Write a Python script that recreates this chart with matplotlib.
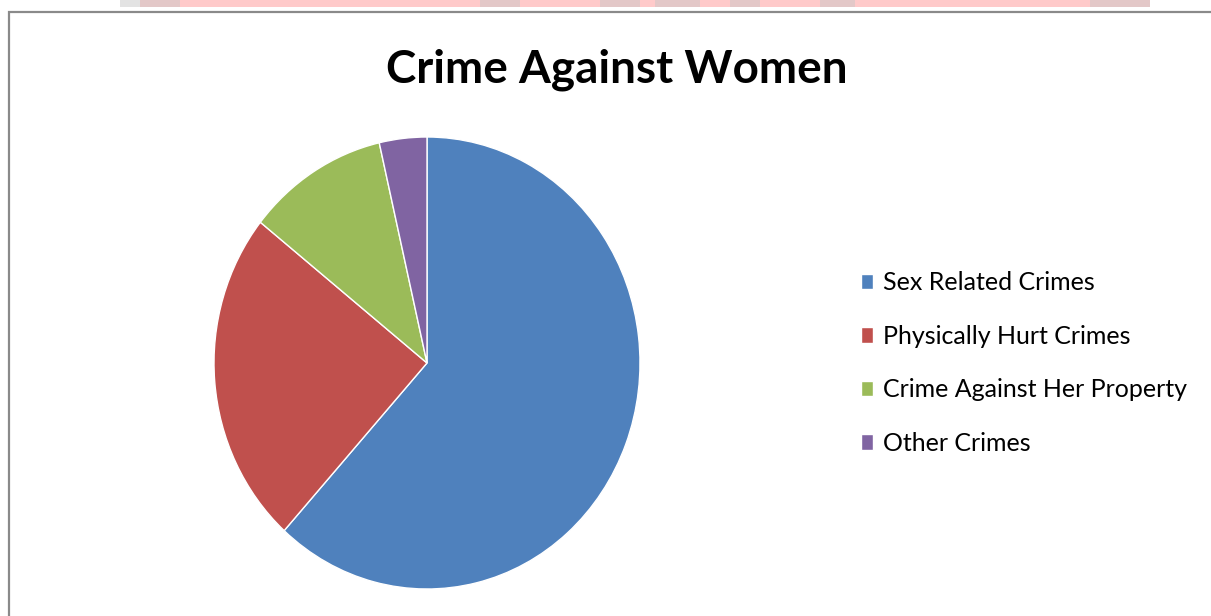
import matplotlib.pyplot as plt
from matplotlib.patches import Rectangle

categories = ["Sex Related Crimes", "Physically Hurt Crimes",
              "Crime Against Her Property", "Other Crimes"]
shares = [61.7, 24.0, 10.7, 3.6]
colors = ["#4F81BD", "#C0504D", "#9BBB59", "#8064A2"]
title = "Crime Against Women"

W, H = 1211, 616
fig = plt.figure(figsize=(W / 100, H / 100), dpi=100)
fig.patch.set_facecolor("white")

# blurred banner strip at the very top of the screenshot
band = fig.add_axes([0, 1 - 7 / H, 1, 7 / H])
band.set_xlim(0, W)
band.set_ylim(0, 1)
band.axis("off")
band.add_patch(Rectangle((140, 0), 1010, 1, color="#FFCACA", lw=0))
for x0, w in [(120, 60), (480, 40), (600, 40), (655, 45), (730, 30), (820, 35), (1090, 60)]:
    band.add_patch(Rectangle((x0, 0), w, 1, color="#C8C8C8", lw=0, alpha=0.5))

# chart frame
frame = Rectangle((9 / W, -0.05), 1.1, 1 - 12 / H + 0.05, transform=fig.transFigure,
                  fill=False, edgecolor="#8A8A8A", lw=1.6)
fig.patches.append(frame)

# pie axes placed by pixel box (slightly taller than wide, like the source)
cx, cy, rx, ry = 427, 363, 213, 226
ax = fig.add_axes([(cx - rx) / W, 1 - (cy + ry) / H, 2 * rx / W, 2 * ry / H])
wedges, _ = ax.pie(shares, colors=colors, startangle=90, counterclock=False,
                   wedgeprops=dict(edgecolor="white", linewidth=1))
ax.set_aspect("auto")
ax.set_xlim(-1, 1)
ax.set_ylim(-1, 1)

fig.text(617 / W, 1 - 70 / H, title, ha="center", va="center",
         fontsize=33, fontweight="bold", family="Lato")

fig.legend(wedges, categories, loc="center left",
           bbox_to_anchor=(838 / W, 1 - 363 / H), frameon=False,
           prop=dict(family="Lato", size=18), handlelength=0.5, handleheight=0.6,
           handletextpad=0.4, labelspacing=1.22)

fig.savefig("out.png", dpi=100)
